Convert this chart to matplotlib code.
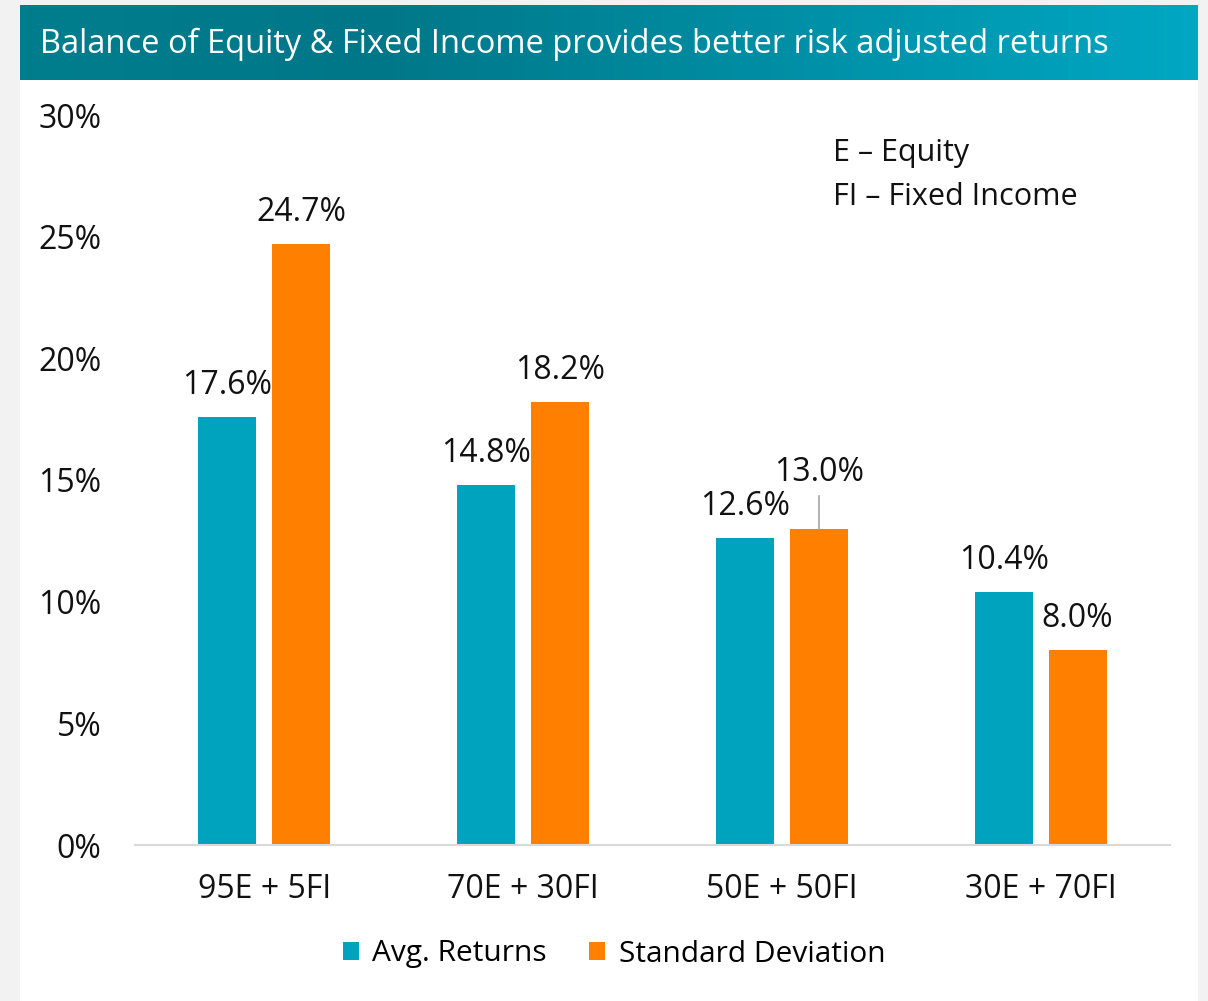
import numpy as np
import matplotlib.pyplot as plt
from matplotlib.colors import LinearSegmentedColormap
from matplotlib.patches import Rectangle

plt.rcParams['font.family'] = ['Liberation Sans Narrow', 'Open Sans', 'DejaVu Sans']

categories = ['95E + 5FI', '70E + 30FI', '50E + 50FI', '30E + 70FI']
avg_returns = [17.6, 14.8, 12.6, 10.4]
std_dev = [24.7, 18.2, 13.0, 8.0]
yticks = [0, 5, 10, 15, 20, 25, 30]

teal = '#00A3BE'
orange = '#FF7F00'
fs = 23

fig = plt.figure(figsize=(12.08, 10.01), dpi=100)
fig.patch.set_facecolor('#F2F2F2')

# white panel
fig.add_artist(Rectangle((20/1208, 0), 1178/1208, 996/1001, transform=fig.transFigure,
                         facecolor='white', edgecolor='none', zorder=0))

# header gradient
hax = fig.add_axes([20/1208, 1-80/1001, 1178/1208, 75/1001])
cmap = LinearSegmentedColormap.from_list('hdr', [(0, '#017E8E'), (0.3, '#007788'), (1, '#00A7C3')])
hax.imshow(np.linspace(0, 1, 256).reshape(1, -1), aspect='auto', cmap=cmap, extent=[0, 1, 0, 1])
hax.set_axis_off()
hax.text(0.017, 0.48, 'Balance of Equity & Fixed Income provides better risk adjusted returns',
         color='white', fontsize=23.5, va='center', ha='left', transform=hax.transAxes)

ax = fig.add_axes([135/1208, 156/1001, 1035/1208, 730/1001])
x = np.arange(len(categories))
w = 0.224
off = 0.143
b1 = ax.bar(x - off, avg_returns, w, color=teal, label='Avg. Returns')
b2 = ax.bar(x + off, std_dev, w, color=orange, label='Standard Deviation')

ax.set_xlim(-0.5, 3.5)
ax.set_ylim(0, 30)
ax.set_yticks(yticks)
ax.set_yticklabels([f'{t}%' for t in yticks])
ax.set_xticks(x)
ax.set_xticklabels(categories)
ax.tick_params(axis='both', length=0, labelsize=fs, colors='#111111')
ax.tick_params(axis='y', pad=24)
ax.tick_params(axis='x', pad=20)
for s in ['top', 'right', 'left']:
    ax.spines[s].set_visible(False)
ax.spines['bottom'].set_color('#D9D9D9')
ax.spines['bottom'].set_linewidth(1.5)

for i, v in enumerate(avg_returns):
    ax.text(x[i] - off, v + 1.3, f'{v:.1f}%', ha='center', va='center', fontsize=fs, color='#111111')
for i, v in enumerate(std_dev):
    if i == 2:
        ax.plot([x[i] + off, x[i] + off], [v, v + 1.35], color='#A6A6A6', lw=1.2)
        ax.text(x[i] + off, v + 2.3, f'{v:.1f}%', ha='center', va='center', fontsize=fs, color='#111111')
    else:
        ax.text(x[i] + off, v + 1.3, f'{v:.1f}%', ha='center', va='center', fontsize=fs, color='#111111')

fig.text(833/1208, 1-153/1001, 'E \u2013 Equity', fontsize=22, va='center', ha='left', color='#111111')
fig.text(833/1208, 1-197/1001, 'FI \u2013 Fixed Income', fontsize=22, va='center', ha='left', color='#111111')

fig.legend(handles=[b1, b2], loc='center', bbox_to_anchor=(614/1208, 1-954/1001), ncol=2,
           frameon=False, fontsize=21.5, handlelength=0.55, handleheight=0.55, handletextpad=0.45,
           columnspacing=1.4)

fig.savefig('out.png', dpi=100, facecolor=fig.get_facecolor())
